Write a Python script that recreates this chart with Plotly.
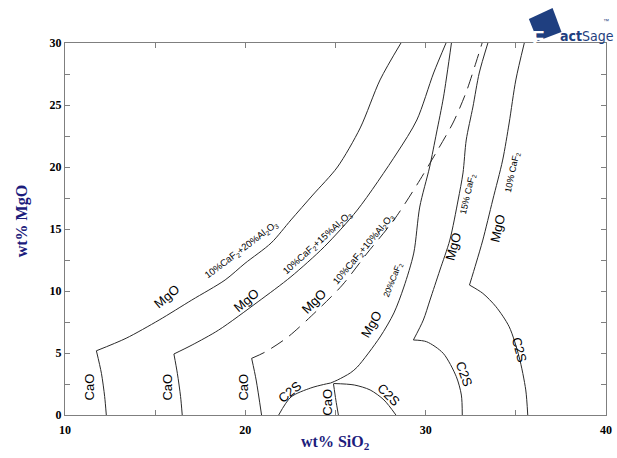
import plotly.graph_objects as go

# ---------------- data (wt% SiO2, wt% MgO) ----------------
# 10%CaF2 + 20%Al2O3 system
a20_mgo_x = [11.74, 13.39, 15.22, 17.03, 18.88, 19.98, 21.43, 22.53, 23.74, 25.11, 26.37, 27.47, 28.63]
a20_mgo_y = [5.18, 6.19, 7.66, 9.27, 10.89, 12.23, 13.87, 15.73, 17.74, 20.0, 23.15, 27.02, 30.0]
a20_cao_x = [11.74, 12.02, 12.20, 12.29]
a20_cao_y = [5.18, 3.36, 1.48, 0.0]

# 10%CaF2 + 15%Al2O3 system
a15_mgo_x = [16.04, 17.05, 18.52, 20.71, 22.53, 24.38, 26.21, 28.41, 29.51, 30.44, 31.13]
a15_mgo_y = [4.92, 5.65, 6.85, 9.14, 11.15, 13.57, 16.53, 21.13, 23.79, 27.58, 30.0]
a15_cao_x = [16.04, 16.23, 16.41, 16.50]
a15_cao_y = [4.92, 3.36, 1.48, 0.0]

# 10%CaF2 + 10%Al2O3 system (dashed)
a10_mgo_x = [20.35, 21.10, 22.36, 24.01, 25.38, 26.76, 28.24, 29.51, 30.60, 31.54, 32.25, 32.80, 33.13]
a10_mgo_y = [4.57, 5.08, 6.29, 8.47, 10.48, 13.06, 15.73, 18.55, 21.21, 23.63, 26.05, 28.47, 30.0]
a10_cao_x = [20.35, 20.60, 20.90]
a10_cao_y = [4.57, 2.82, 0.0]

# 20%CaF2 system
f20_mgo_x = [31.43, 30.99, 30.60, 30.22, 29.67, 29.34, 28.79, 28.24, 27.47, 26.21, 25.82, 25.11, 24.73]
f20_mgo_y = [30.0, 25.65, 22.74, 20.0, 16.77, 13.06, 10.32, 8.23, 6.29, 3.87, 3.39, 2.82, 2.58]
f20_c2s_left_x = [21.85, 22.53, 23.63, 24.34, 24.73]
f20_c2s_left_y = [0.0, 1.45, 2.18, 2.46, 2.58]
f20_cao_x = [24.89, 25.02, 25.16]
f20_cao_y = [2.50, 1.20, 0.0]
f20_c2s_right_x = [24.89, 26.04, 26.92, 27.69, 28.35]
f20_c2s_right_y = [2.54, 2.42, 2.02, 1.21, 0.0]

# 15%CaF2 system
f15_mgo_x = [33.45, 32.97, 32.62, 32.25, 32.07, 31.80, 31.34, 30.79, 30.24, 29.87, 29.32]
f15_mgo_y = [30.0, 27.58, 24.84, 22.18, 19.52, 17.34, 14.11, 11.69, 9.27, 7.66, 6.05]
f15_c2s_x = [29.32, 30.05, 30.97, 31.70, 31.98, 32.03]
f15_c2s_y = [6.05, 5.91, 4.98, 3.09, 1.61, 0.0]

# 10%CaF2 system
f10_mgo_x = [35.47, 35.00, 34.63, 34.27, 33.72, 33.17, 32.80, 32.43]
f10_mgo_y = [30.0, 27.02, 23.55, 20.56, 17.34, 14.11, 12.26, 10.48]
f10_c2s_x = [32.43, 33.17, 33.90, 34.63, 35.18, 35.55, 35.66]
f10_c2s_y = [10.48, 9.81, 8.73, 7.12, 4.70, 2.02, 0.0]

x_tickvals = [10, 15, 20, 25, 30, 35, 40]
x_ticktext = ["10", "", "20", "", "30", "", "40"]
y_tickvals = [0, 2.5, 5, 7.5, 10, 12.5, 15, 17.5, 20, 22.5, 25, 27.5, 30]
y_ticktext = ["0", "", "5", "", "10", "", "15", "", "20", "", "25", "", "30"]

# labels: text, x, y, angle, size
phase_labels = [
    ("CaO", 11.37, 2.28, -90, 13),
    ("CaO", 15.70, 2.28, -90, 13),
    ("CaO", 19.92, 2.28, -90, 13),
    ("CaO", 24.58, 1.07, -90, 13),
    ("C2S", 22.50, 1.88, -40, 13),
    ("C2S", 27.99, 1.61, 45, 13),
    ("C2S", 32.10, 3.31, 70, 13),
    ("C2S", 35.23, 5.24, 75, 13),
    ("MgO", 15.65, 9.52, -40, 13),
    ("MgO", 20.04, 9.27, -40, 13),
    ("MgO", 23.80, 9.14, -45, 13),
    ("MgO", 27.00, 7.26, -60, 13),
    ("MgO", 31.55, 13.55, -75, 13),
    ("MgO", 33.97, 15.08, -77, 13),
]
system_labels = [
    ("10%CaF<sub>2</sub>+20%Al<sub>2</sub>O<sub>3</sub>", 19.76, 13.31, -37, 9.5),
    ("10%CaF<sub>2</sub>+15%Al<sub>2</sub>O<sub>3</sub>", 23.99, 13.87, -42, 9.5),
    ("10%CaF<sub>2</sub>+10%Al<sub>2</sub>O<sub>3</sub>", 26.55, 13.39, -50, 9.5),
    ("20%CaF<sub>2</sub>", 28.21, 10.89, -68, 8.5),
    ("15% CaF<sub>2</sub>", 32.32, 17.82, -77, 9),
    ("10% CaF<sub>2</sub>", 34.85, 19.60, -78, 9),
]

LINE = "#2a2a2a"
fig = go.Figure()

def add(xs, ys, dash=None):
    fig.add_trace(go.Scatter(
        x=xs, y=ys, mode="lines", hoverinfo="skip",
        line=dict(color=LINE, width=1, dash=dash, shape="spline", smoothing=0.8),
        showlegend=False))

add(a20_mgo_x, a20_mgo_y)
add(a20_cao_x, a20_cao_y)
add(a15_mgo_x, a15_mgo_y)
add(a15_cao_x, a15_cao_y)
add(a10_mgo_x, a10_mgo_y, dash="14px,8px")
add(a10_cao_x, a10_cao_y)
add(f20_mgo_x, f20_mgo_y)
add(f20_c2s_left_x, f20_c2s_left_y)
add(f20_cao_x, f20_cao_y)
add(f20_c2s_right_x, f20_c2s_right_y)
add(f15_mgo_x, f15_mgo_y)
add(f15_c2s_x, f15_c2s_y)
add(f10_mgo_x, f10_mgo_y)
add(f10_c2s_x, f10_c2s_y)

for t, x, y, a, s in phase_labels + system_labels:
    fig.add_annotation(x=x, y=y, text=t, textangle=a, showarrow=False,
                       font=dict(family="Liberation Sans, Arial", size=s, color="black"))

NAVY = "#1c1c7c"
fig.add_annotation(xref="paper", yref="paper", x=0.5, y=-0.075, yanchor="middle",
                   text="wt% SiO<sub>2</sub>", showarrow=False,
                   font=dict(family="Liberation Serif", size=16, color=NAVY, weight="bold"))
fig.add_annotation(xref="paper", yref="paper", x=-0.08, y=0.52, xanchor="center",
                   text="wt% MgO", textangle=-90, showarrow=False,
                   font=dict(family="Liberation Serif", size=16, color=NAVY, weight="bold"))

# FactSage logo (pixel -> paper helpers)
def px(v):
    return (v - 65) / 547.0

def py(v):
    return (415 - v) / 372.0

LOGO = "#1f3f80"
fig.add_shape(type="path", xref="paper", yref="paper",
              path=f"M {px(534)} {py(19)} L {px(558)} {py(8)} L {px(567)} {py(32)} L {px(543)} {py(41)} Z",
              fillcolor=LOGO, line=dict(width=0))
fig.add_annotation(xref="paper", yref="paper", x=px(551), y=py(25), text="<b>F</b>",
                   showarrow=False, font=dict(family="Liberation Sans", size=20, color="white"))
fig.add_annotation(xref="paper", yref="paper", x=px(563), y=py(26), xanchor="left",
                   text="<b>act</b>Sage", showarrow=False,
                   font=dict(family="DejaVu Sans Condensed, Liberation Sans", size=14, color=LOGO))
fig.add_annotation(xref="paper", yref="paper", x=px(617), y=py(16), xanchor="right",
                   text="™", showarrow=False,
                   font=dict(family="Liberation Sans", size=6, color=LOGO))

axis_common = dict(showline=True, linecolor="#7f7f7f", linewidth=1, mirror="ticks",
                   ticks="inside", ticklen=5, tickcolor="#7f7f7f", showgrid=False, zeroline=False,
                   ticklabeloverflow="allow",
                   tickfont=dict(family="Liberation Serif", size=12, color="black", weight="bold"))
fig.update_xaxes(range=[10, 40], tickvals=x_tickvals, ticktext=x_ticktext,
                 ticklabelstandoff=4, **axis_common)
fig.update_yaxes(range=[0, 30], tickvals=y_tickvals, ticktext=y_ticktext, **axis_common)

fig.update_layout(width=617, height=458, margin=dict(l=65, r=5, t=43, b=43),
                  paper_bgcolor="white", plot_bgcolor="white", showlegend=False)

fig.write_html("out.html", config={"displayModeBar": False},
               post_script="document.body.style.margin='0px';document.body.style.overflow='hidden';")
